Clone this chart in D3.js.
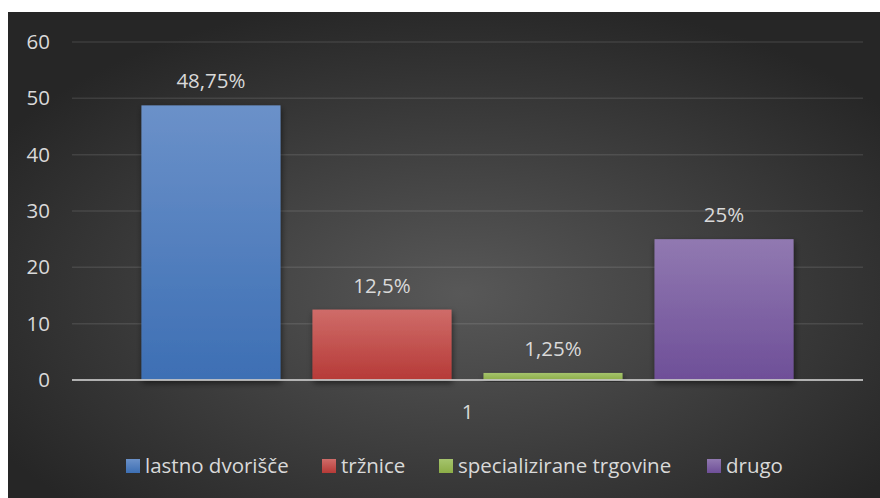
<!DOCTYPE html>
<html>
<head>
<meta charset="utf-8">
<script src="https://cdn.jsdelivr.net/npm/d3@7"></script>
<style>
  html, body { margin: 0; padding: 0; background: #ffffff; }
  svg { display: block; }
  text { font-family: "Open Sans", "Noto Sans", sans-serif; fill: #d9d9d9; }
</style>
</head>
<body>
<svg id="chart" width="880" height="498"></svg>
<script>
// Chart data
const categories = ["1"];
const seriesNames = ["lastno dvorišče", "tržnice", "specializirane trgovine", "drugo"];
const seriesValues = [48.75, 12.5, 1.25, 25];
const valueLabels = ["48,75%", "12,5%", "1,25%", "25%"];
const yTicks = [0, 10, 20, 30, 40, 50, 60];
const seriesColors = [
  ["#6b91c9", "#3d6fb4"],
  ["#cf6c69", "#b63a37"],
  ["#a5c46d", "#8cad47"],
  ["#9179b1", "#6e4f98"]
];

const W = 880, H = 498;
const FONT = "20.5px";
const svg = d3.select("#chart");
const defs = svg.append("defs");

// dark radial backdrop
const bg = defs.append("radialGradient").attr("id", "bg")
  .attr("cx", "52%").attr("cy", "58%").attr("r", "62%");
bg.append("stop").attr("offset", "0%").attr("stop-color", "#585858");
bg.append("stop").attr("offset", "100%").attr("stop-color", "#262626");

seriesColors.forEach((c, i) => {
  const g = defs.append("linearGradient").attr("id", "bar" + i)
    .attr("x1", 0).attr("y1", 0).attr("x2", 0).attr("y2", 1);
  g.append("stop").attr("offset", "0%").attr("stop-color", c[0]);
  g.append("stop").attr("offset", "100%").attr("stop-color", c[1]);
});

const shadow = defs.append("filter").attr("id", "shadow")
  .attr("x", "-20%").attr("y", "-20%").attr("width", "140%").attr("height", "140%");
shadow.append("feDropShadow").attr("dx", 1).attr("dy", 3)
  .attr("stdDeviation", 3).attr("flood-color", "#000").attr("flood-opacity", 0.55);

svg.append("rect").attr("x", 8).attr("y", 12).attr("width", W - 8).attr("height", H - 12)
  .attr("fill", "url(#bg)");

const plot = { left: 72, right: 863, top: 42, bottom: 380 };

const y = d3.scaleLinear().domain([0, 60]).range([plot.bottom, plot.top]);
const x0 = d3.scaleBand().domain(categories).range([plot.left, plot.right]);
const x1 = d3.scaleBand().domain(seriesNames).range([0, x0.bandwidth()])
  .paddingInner(0.187).paddingOuter(0.406);

// gridlines
svg.append("g").selectAll("line").data(yTicks.filter(t => t > 0)).join("line")
  .attr("x1", plot.left).attr("x2", plot.right)
  .attr("y1", d => y(d)).attr("y2", d => y(d))
  .attr("stroke", "#ffffff").attr("stroke-opacity", 0.1).attr("stroke-width", 1.5);

// y axis labels
const yAxis = svg.append("g").attr("transform", `translate(${plot.left - 22},0)`)
  .call(d3.axisLeft(y).tickValues(yTicks).tickSize(0).tickPadding(0));
yAxis.select(".domain").remove();
yAxis.selectAll("text").attr("fill", "#d9d9d9").style("font-size", FONT)
  .style("font-family", "'Open Sans', sans-serif");

// bars
const barG = svg.append("g");
categories.forEach(cat => {
  seriesNames.forEach((name, i) => {
    const v = seriesValues[i];
    barG.append("rect")
      .attr("x", x0(cat) + x1(name))
      .attr("y", y(v))
      .attr("width", x1.bandwidth())
      .attr("height", y(0) - y(v))
      .attr("fill", `url(#bar${i})`)
      .attr("filter", "url(#shadow)");
    svg.append("text")
      .attr("x", x0(cat) + x1(name) + x1.bandwidth() / 2)
      .attr("y", y(v) - 17)
      .attr("text-anchor", "middle")
      .style("font-size", FONT)
      .text(valueLabels[i]);
  });
});

// category axis
svg.append("line").attr("x1", plot.left).attr("x2", plot.right)
  .attr("y1", y(0)).attr("y2", y(0))
  .attr("stroke", "#c8c8c8").attr("stroke-opacity", 0.85).attr("stroke-width", 2);
const xAxis = svg.append("g").attr("transform", `translate(0,${y(0)})`)
  .call(d3.axisBottom(x0).tickSize(0).tickPadding(24));
xAxis.select(".domain").remove();
xAxis.selectAll("text").attr("fill", "#d9d9d9").style("font-size", FONT)
  .style("font-family", "'Open Sans', sans-serif");

// legend
const legendX = [126, 322, 439, 707];
const legend = svg.append("g");
seriesNames.forEach((name, i) => {
  legend.append("rect").attr("x", legendX[i]).attr("y", 459).attr("width", 14).attr("height", 14)
    .attr("fill", `url(#bar${i})`);
  legend.append("text").attr("x", legendX[i] + 19).attr("y", 473)
    .style("font-size", FONT).text(name);
});
</script>
</body>
</html>
